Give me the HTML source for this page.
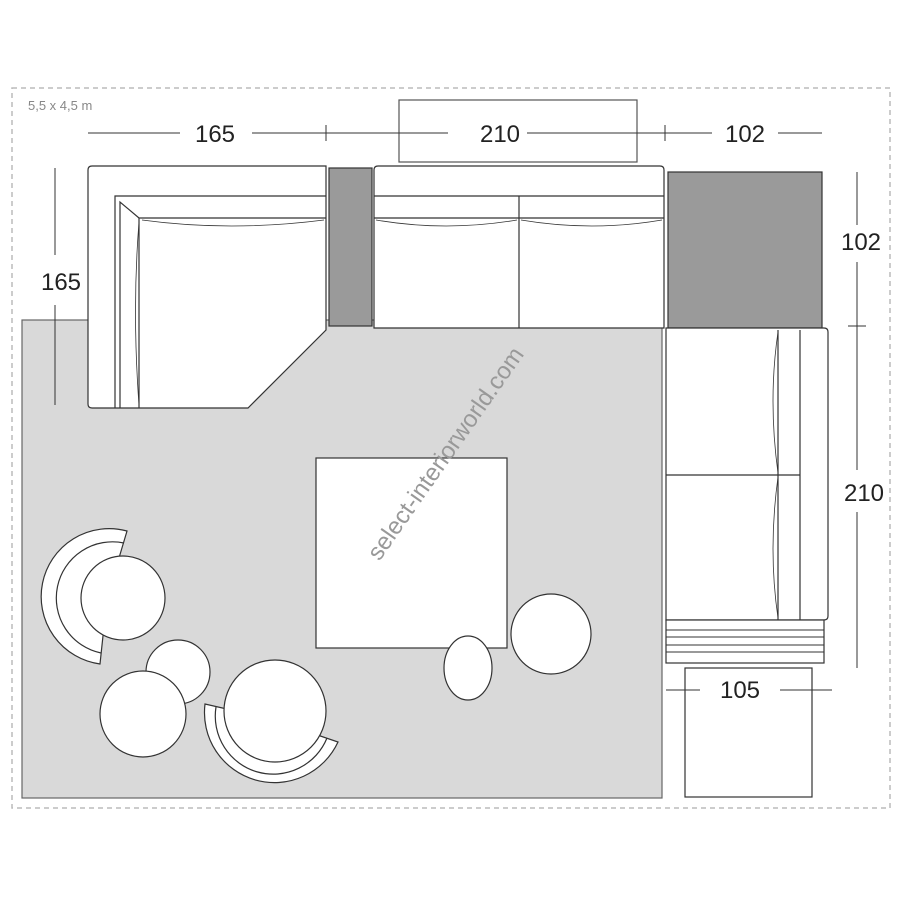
<!DOCTYPE html>
<html><head><meta charset="utf-8"><style>
html,body{margin:0;padding:0;background:#fff;}
svg{display:block;}
text{font-family:"Liberation Sans",sans-serif;}
</style></head><body>
<svg width="900" height="900" viewBox="0 0 900 900" xmlns="http://www.w3.org/2000/svg">
<rect x="12" y="88" width="878" height="720" fill="none" stroke="#bbb" stroke-width="1.5" stroke-dasharray="5,4"/>
<text x="28" y="110" font-size="13" fill="#888">5,5 x 4,5 m</text>
<!-- rug -->
<rect x="22" y="320" width="640" height="478" fill="#d9d9d9" stroke="#666" stroke-width="1.2"/>
<g stroke="#333" stroke-width="1.2" fill="#fff">
<!-- top frame -->
<rect x="399" y="100" width="238" height="62" stroke="#555"/>
<!-- corner sofa -->
<path d="M92,166 H326 V330 L248,408 H92 Q88,408 88,404 V170 Q88,166 92,166 Z"/>
<path d="M115,408 V196 H326" fill="none"/>
<path d="M120,408 V202 L139,218 H326" fill="none"/>
<path d="M139,218 V408" fill="none"/>
<path d="M139,222 Q132,310 139,405" fill="none" stroke-width="0.8"/>
<path d="M142,220 Q230,232 324,220" fill="none" stroke-width="0.8"/>
<!-- dark block -->
<rect x="329" y="168" width="43" height="158" fill="#9a9a9a"/>
<!-- top sofa -->
<path d="M378,166 H660 Q664,166 664,170 V328 H374 V170 Q374,166 378,166 Z"/>
<path d="M374,196 H664 M374,218 H664 M519,196 V328" fill="none"/>
<path d="M376,220 Q446,232 517,220 M521,220 Q592,232 662,220" fill="none" stroke-width="0.8"/>
<!-- dark square -->
<rect x="668" y="172" width="154" height="156" fill="#9a9a9a"/>
<!-- right sofa -->
<path d="M666,328 H824 Q828,328 828,332 V616 Q828,620 824,620 H666 Z"/>
<path d="M778,330 V620 M800,330 V620 M666,475 H800" fill="none"/>
<path d="M778,332 Q768,400 778,473 M778,477 Q768,550 778,618" fill="none" stroke-width="0.8"/>
<rect x="666" y="620" width="158" height="43"/>
<path d="M666,630 H824 M666,637 H824 M666,645 H824 M666,652 H824" fill="none" stroke-width="0.9"/>
<!-- ottoman -->
<rect x="685" y="668" width="127" height="129"/>
<!-- coffee table -->
<rect x="316" y="458" width="191" height="190"/>
<ellipse cx="468" cy="668" rx="24" ry="32"/>
<circle cx="551" cy="634" r="40"/>
<!-- left chair -->
<path d="M127,531 A68,68 0 1 0 100,664 L105,617 A20,20 0 1 1 113,578 Z"/>
<path d="M124,543 A56,56 0 1 0 101,653" fill="none"/>
<circle cx="123" cy="598" r="42"/>
<circle cx="178" cy="672" r="32"/>
<circle cx="143" cy="714" r="43"/>
<!-- bottom chair -->
<path d="M205,704 A70,70 0 0 0 338,742 L291,726 A20,20 0 0 1 253,715 Z"/>
<path d="M216,707 A58,58 0 0 0 327,738" fill="none"/>
<circle cx="275" cy="711" r="51"/>
</g>
<!-- dimension lines -->
<g stroke="#333" stroke-width="1" fill="none">
<path d="M88,133 H180 M252,133 H448 M527,133 H822"/>
<path d="M326,125 V141 M665,125 V141"/>
<path d="M55,168 V255 M55,305 V405"/>
<path d="M857,172 V225 M857,262 V470 M857,512 V668 M848,326 H866"/>
<path d="M666,690 H700 M780,690 H832"/>
</g>
<g font-size="24" fill="#222" text-anchor="middle">
<rect x="180" y="118" width="72" height="30" fill="#fff"/>
<text x="215" y="142">165</text>
<rect x="448" y="118" width="79" height="30" fill="#fff"/>
<text x="500" y="142">210</text>
<rect x="712" y="118" width="66" height="30" fill="#fff"/>
<text x="745" y="142">102</text>
<text x="61" y="290">165</text>
<text x="861" y="250">102</text>
<text x="864" y="501">210</text>
<text x="740" y="698">105</text>
</g>
<text x="452" y="458" font-size="24" fill="#999" text-anchor="middle" transform="rotate(-55 452 458)">select-interiorworld.com</text>
</svg>
</body></html>
